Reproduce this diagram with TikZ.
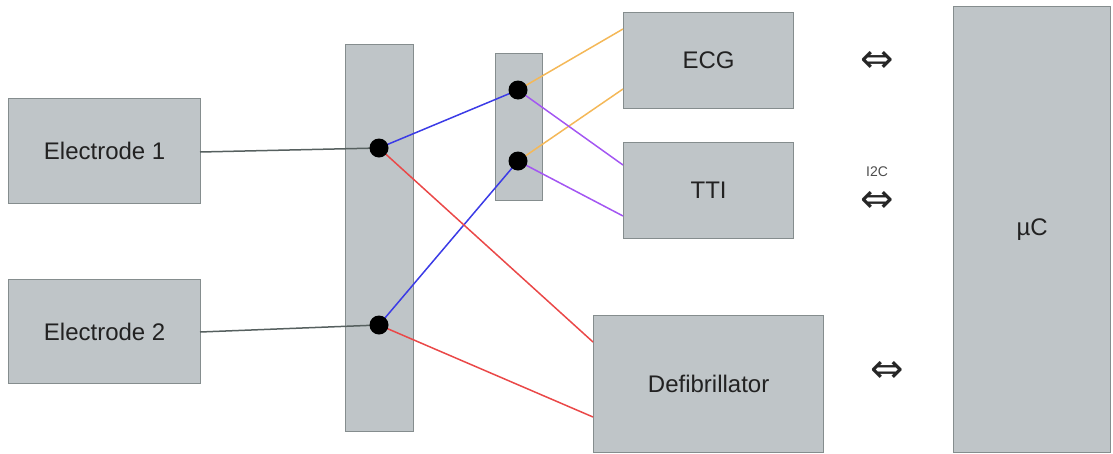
\documentclass[tikz,border=0pt]{standalone}
\usepackage{fontspec}
\setmainfont{Liberation Sans}
\newfontfamily\symfont{DejaVu Sans}
\definecolor{boxfill}{HTML}{BFC5C8}
\definecolor{boxline}{HTML}{858D8E}
\definecolor{wgray}{HTML}{56605F}
\definecolor{wblue}{HTML}{3B3BE6}
\definecolor{wred}{HTML}{EA4848}
\definecolor{worange}{HTML}{F4B858}
\definecolor{wpurple}{HTML}{A356F2}
\definecolor{txt}{HTML}{222222}
\begin{document}
\begin{tikzpicture}[x=1pt,y=-1pt,
  box/.style={draw=boxline, fill=boxfill, line width=1.3pt, inner sep=0pt, anchor=north west,
    text=txt, font=\fontsize{24}{28}\selectfont},
  dot/.style={circle, fill=black, inner sep=0pt, minimum size=19pt},
  wire/.style={line width=1.5pt},
  bidir/.style={text=black!85, font=\symfont\fontsize{40}{40}\selectfont, inner sep=0pt},
  lbl/.style={text=black!70, font=\fontsize{14}{16}\selectfont, inner sep=0pt}]
\useasboundingbox (0,0) rectangle (1113,453);
\node[box, minimum width=192pt, minimum height=105pt] (e1) at (8,98) {Electrode 1};
\node[box, minimum width=192pt, minimum height=104pt] (e2) at (8,279) {Electrode 2};
\node[box, minimum width=68pt, minimum height=387pt] (bar) at (345,44) {};
\node[box, minimum width=47pt, minimum height=147pt] (sbar) at (495,53) {};
\node[box, minimum width=170pt, minimum height=96pt] (ecg) at (623,12) {ECG};
\node[box, minimum width=170pt, minimum height=96pt] (tti) at (623,142) {TTI};
\node[box, minimum width=230pt, minimum height=137pt] (defib) at (593,315) {Defibrillator};
\node[box, minimum width=157pt, minimum height=446pt] (uc) at (953,6) {µC};
\node[bidir] (a1) at (877,62) {⇔};
\node[bidir] (a2) at (877,202) {⇔};
\node[bidir] (a3) at (887,372) {⇔};
\node[lbl] (i2c) at (877,172) {I2C};
% dot positions
\coordinate (p1) at (379,148);
\coordinate (p2) at (379,325);
\coordinate (p3) at (518,90);
\coordinate (p4) at (518,161);
% wire endpoints on box edges
\coordinate (e1o) at (200,152);
\coordinate (e2o) at (200,332);
\coordinate (ecg1) at (623,29);
\coordinate (ecg2) at (623,89);
\coordinate (tti1) at (623,165);
\coordinate (tti2) at (623,216);
\coordinate (df1) at (593,342);
\coordinate (df2) at (593,417);
\draw[wire, wgray] (e1o) -- (p1);
\draw[wire, wgray] (e2o) -- (p2);
\draw[wire, wblue] (p1) -- (p3);
\draw[wire, wblue] (p2) -- (p4);
\draw[wire, wred] (p1) -- (df1);
\draw[wire, wred] (p2) -- (df2);
\draw[wire, worange] (p3) -- (ecg1);
\draw[wire, worange] (p4) -- (ecg2);
\draw[wire, wpurple] (p3) -- (tti1);
\draw[wire, wpurple] (p4) -- (tti2);
\node[dot] (d1) at (p1) {};
\node[dot] (d2) at (p2) {};
\node[dot] (d3) at (p3) {};
\node[dot] (d4) at (p4) {};
\end{tikzpicture}
\end{document}
